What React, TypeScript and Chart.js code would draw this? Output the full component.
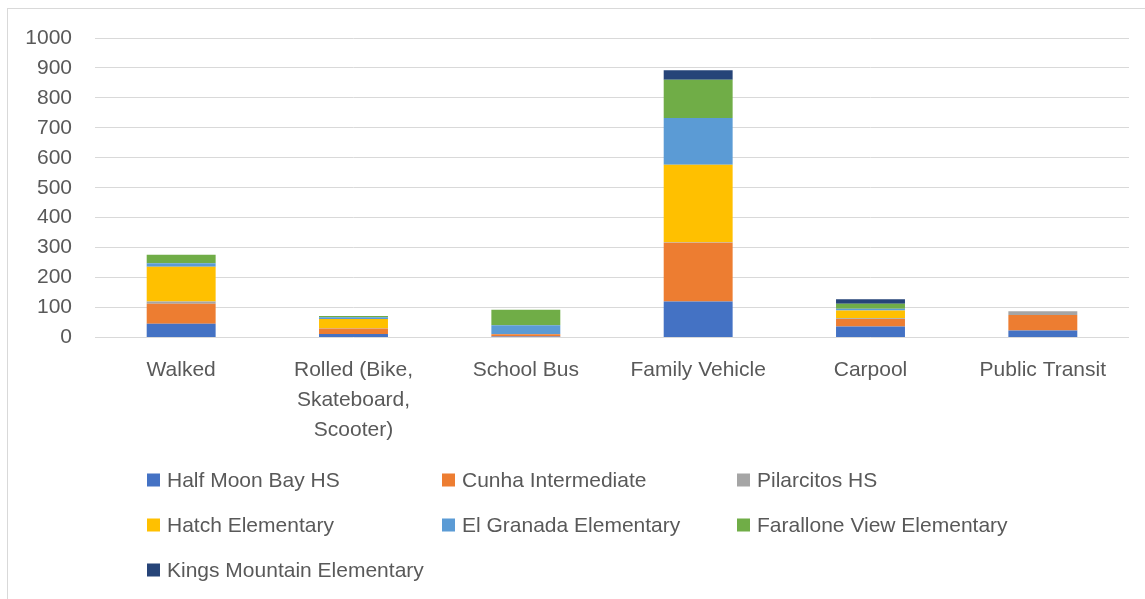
import React, { useEffect, useRef } from "react";
import { Chart, registerables } from "chart.js";

Chart.register(...registerables);

const categories: (string | string[])[] = [
  "Walked",
  ["Rolled (Bike,", "Skateboard,", "Scooter)"],
  "School Bus",
  "Family Vehicle",
  "Carpool",
  "Public Transit",
];

const seriesNames = [
  "Half Moon Bay HS",
  "Cunha Intermediate",
  "Pilarcitos HS",
  "Hatch Elementary",
  "El Granada Elementary",
  "Farallone View Elementary",
  "Kings Mountain Elementary",
];

const halfMoonBay = [46, 12, 3, 120, 37, 23];
const cunha = [67, 18, 8, 196, 25, 52];
const pilarcitos = [7, 1, 1, 2, 2, 13];
const hatch = [116, 31, 0, 259, 26, 0];
const elGranada = [12, 6, 29, 156, 6, 0];
const farallone = [28, 4, 52, 128, 17, 0];
const kingsMountain = [0, 0, 0, 31, 15, 0];

const seriesValues = [halfMoonBay, cunha, pilarcitos, hatch, elGranada, farallone, kingsMountain];
const seriesColors = ["#4472C4", "#ED7D31", "#A5A5A5", "#FFC000", "#5B9BD5", "#70AD47", "#264478"];

const yMin = 0;
const yMax = 1000;
const yStep = 100;

const FONT = "'Liberation Sans', Arial, sans-serif";
const TEXT = "#595959";

const framePlugin = {
  id: "frameAndLegend",
  beforeDraw(chart: any) {
    const ctx = chart.ctx;
    ctx.save();
    ctx.fillStyle = "#ffffff";
    ctx.fillRect(0, 0, chart.width, chart.height);
    ctx.strokeStyle = "#d9d9d9";
    ctx.lineWidth = 1;
    ctx.strokeRect(7.5, 8.5, 1200, 700);
    ctx.restore();
  },
  afterDraw(chart: any) {
    const ctx = chart.ctx;
    ctx.save();
    ctx.font = `21px ${FONT}`;
    ctx.textBaseline = "middle";
    ctx.textAlign = "left";
    chart.data.datasets.forEach((ds: any, i: number) => {
      const col = i % 3;
      const row = Math.floor(i / 3);
      const x = 147 + col * 295;
      const y = 480 + row * 45;
      ctx.fillStyle = ds.backgroundColor;
      ctx.fillRect(x, y - 6.5, 13, 13);
      ctx.fillStyle = TEXT;
      ctx.fillText(ds.label, x + 20, y + 1);
    });
    ctx.restore();
  },
};

export default function App() {
  const ref = useRef<HTMLCanvasElement | null>(null);

  useEffect(() => {
    document.body.style.margin = "0";
    if (!ref.current) return;
    const chart = new Chart(ref.current, {
      type: "bar",
      data: {
        labels: categories,
        datasets: seriesNames.map((name, i) => ({
          label: name,
          data: seriesValues[i],
          backgroundColor: seriesColors[i],
          borderWidth: 0,
          categoryPercentage: 1,
          barPercentage: 0.4,
        })),
      },
      options: {
        responsive: false,
        animation: false,
        devicePixelRatio: 1,
        layout: { padding: { left: 0, right: 16, top: 38, bottom: 0 } },
        plugins: {
          legend: { display: false },
          tooltip: { enabled: false },
        },
        scales: {
          x: {
            stacked: true,
            grid: { display: false },
            border: { display: false },
            ticks: {
              color: TEXT,
              font: { family: FONT, size: 21, lineHeight: 1.42 },
              padding: 10,
              maxRotation: 0,
              autoSkip: false,
            },
            afterFit(scale: any) {
              scale.height = 599 - 337.5;
            },
          },
          y: {
            stacked: true,
            min: yMin,
            max: yMax,
            grid: { color: "#d9d9d9", lineWidth: 1, drawTicks: false },
            border: { display: false },
            ticks: {
              stepSize: yStep,
              color: TEXT,
              font: { family: FONT, size: 21 },
              padding: 23,
              callback: (v: any) => String(v),
            },
            afterFit(scale: any) {
              scale.width = 95;
            },
          },
        },
      },
      plugins: [framePlugin],
    });
    return () => chart.destroy();
  }, []);

  return (
    <div style={{ width: 1145, height: 599, position: "relative" }}>
      <canvas ref={ref} width={1145} height={599} style={{ display: "block" }} />
    </div>
  );
}
